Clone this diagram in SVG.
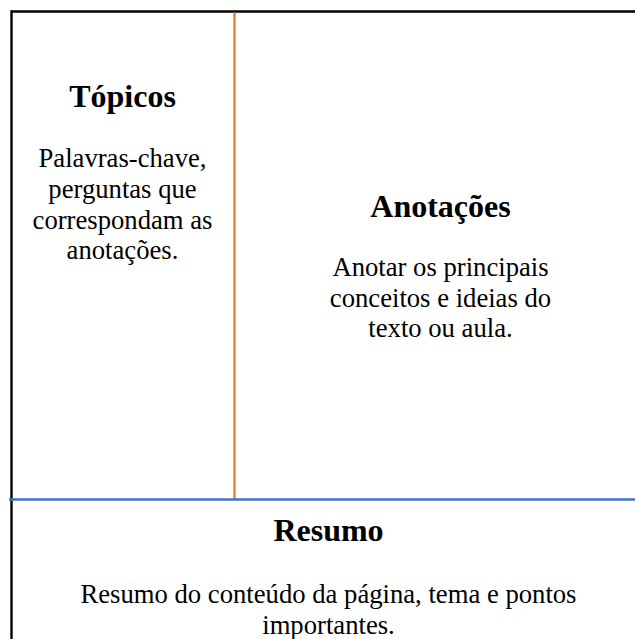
<svg xmlns="http://www.w3.org/2000/svg" width="635" height="639" viewBox="0 0 635 639">
<style>
.h{font-family:"Liberation Serif","Times New Roman",serif;font-weight:bold;font-size:32px;fill:#000;text-anchor:middle}
.b{font-family:"Liberation Serif","Times New Roman",serif;font-size:26.67px;fill:#000;text-anchor:middle}
</style>
<rect width="635" height="639" fill="#fff"/>
<g id="connectors">
<line x1="11.5" y1="11.5" x2="635" y2="11.5" stroke="#000" stroke-width="2.4"/>
<line x1="11.5" y1="10.3" x2="11.5" y2="639" stroke="#000" stroke-width="2.4"/>
<line x1="234.5" y1="12.5" x2="234.5" y2="499" stroke="#ED7D31" stroke-width="2.4"/>
<line x1="9" y1="499.5" x2="635" y2="499.5" stroke="#4472C4" stroke-width="2.4"/>
</g>
<g id="topicos">
<text class="h" x="122.5" y="107">Tópicos</text>
<text class="b" x="122.5" y="167">Palavras-chave,</text>
<text class="b" x="122.5" y="198">perguntas que</text>
<text class="b" x="122.5" y="228.5">correspondam as</text>
<text class="b" x="122.5" y="259">anotações.</text>
</g>
<g id="anotacoes">
<text class="h" x="440.5" y="217">Anotações</text>
<text class="b" x="440.5" y="276">Anotar os principais</text>
<text class="b" x="440.5" y="306.5">conceitos e ideias do</text>
<text class="b" x="440.5" y="337">texto ou aula.</text>
</g>
<g id="resumo">
<text class="h" x="328.5" y="541">Resumo</text>
<text class="b" x="328.5" y="603">Resumo do conteúdo da página, tema e pontos</text>
<text class="b" x="328.5" y="634">importantes.</text>
</g>
</svg>
